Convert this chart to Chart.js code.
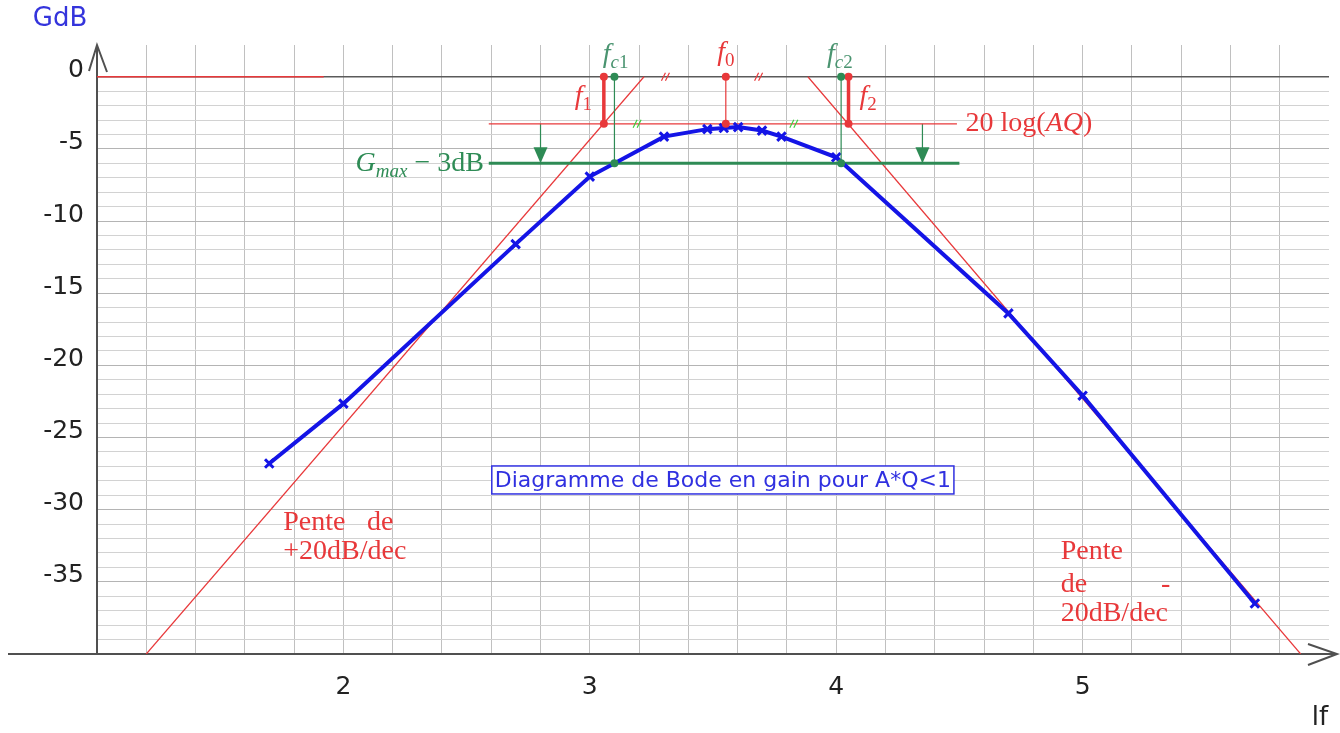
<!DOCTYPE html>
<html lang="fr">
<head>
<meta charset="UTF-8">
<title>Diagramme de Bode en gain</title>
<script src="https://cdn.jsdelivr.net/npm/chart.js@4.3.0/dist/chart.umd.min.js"></script>
<style>
  body { margin: 0; background: #fff; }
  #bode { display: block; }
</style>
</head>
<body>
<canvas id="bode" width="1340" height="733"></canvas>
<script>
// points mesurés : log(f) et gain en dB
const lf  = [1.699, 2, 2.699, 3, 3.301, 3.477, 3.544, 3.602, 3.699, 3.778, 4, 4.699, 5, 5.699];
const gdb = [-26.8, -22.65, -11.6, -6.92, -4.15, -3.63, -3.55, -3.49, -3.73, -4.15, -5.58, -16.4, -22.1, -36.5];

// asymptotes (+20 / -20 dB/dec)
const asymLeftX  = [1.2, 3.22];
const asymLeftY  = [-40, 0];
const asymRightX = [3.885, 5.885];
const asymRightY = [0, -40];

// niveaux
const gAQ  = -3.26;   // 20 log(AQ)
const gCut = -6.0;    // Gmax - 3dB
const zeroSegX = [1, 1.92];
const aqLineX  = [2.59, 4.49];
const cutLineX = [2.59, 4.5];

// fréquences remarquables (log f)
const f1 = 3.057, f0 = 3.552, f2 = 4.05;
const fc1 = 3.1, fc2 = 4.02;
const arrowX = [2.8, 4.35];
const hatchRedX = [3.307, 3.685];
const hatchGreenX = [3.192, 3.828];

// graduations
const yLabels = [0, -5, -10, -15, -20, -25, -30, -35];
const xLabels = [2, 3, 4, 5];

const RED = '#e8383a';
const GREEN = '#2e8b55';
const BLUE = '#1414e6';

const xy = (xs, ys) => xs.map((x, i) => ({ x: x, y: ys[i] }));

const notes = [
    { x: 2.974, y: -1.39, align: 'center', color: RED, parts: [{ t: 'f', it: true }, { t: '1', sub: true }] },
    { x: f0, y: 1.66, align: 'center', color: RED, parts: [{ t: 'f', it: true }, { t: '0', sub: true }] },
    { x: 4.13, y: -1.39, align: 'center', color: RED, parts: [{ t: 'f', it: true }, { t: '2', sub: true }] },
    { x: 3.105, y: 1.52, align: 'center', color: '#4a9470', parts: [{ t: 'f', it: true }, { t: 'c', it: true, sub: true }, { t: '1', sub: true }] },
    { x: 4.015, y: 1.52, align: 'center', color: '#4a9470', parts: [{ t: 'f', it: true }, { t: 'c', it: true, sub: true }, { t: '2', sub: true }] },
    { x: 4.525, y: gAQ, align: 'left', color: RED, parts: [{ t: '20 log(' }, { t: 'AQ', it: true }, { t: ')' }] },
    { x: 2.57, y: gCut, align: 'right', color: GREEN, parts: [{ t: 'G', it: true }, { t: 'max', it: true, sub: true }, { t: ' \u2212 3dB' }] },
    { x: 1.756, y: -30.9, align: 'left', color: RED, parts: [{ t: 'Pente' }] },
    { x: 2.203, y: -30.9, align: 'right', color: RED, parts: [{ t: 'de' }] },
    { x: 1.756, y: -32.9, align: 'left', color: RED, parts: [{ t: '+20dB/dec' }] },
    { x: 4.911, y: -32.9, align: 'left', color: RED, parts: [{ t: 'Pente' }] },
    { x: 4.911, y: -35.2, align: 'left', color: RED, parts: [{ t: 'de' }] },
    { x: 5.337, y: -35.2, align: 'center', color: RED, parts: [{ t: '-' }] },
    { x: 4.911, y: -37.2, align: 'left', color: RED, parts: [{ t: '20dB/dec' }] }
];

function drawRich(ctx, parts, x, y, align, color, size) {
    const fam = '"Liberation Serif", serif';
    const fontOf = p => (p.it ? 'italic ' : '') + Math.round(p.sub ? size * 0.68 : size) + 'px ' + fam;
    let w = 0;
    parts.forEach(p => { ctx.font = fontOf(p); w += ctx.measureText(p.t).width; });
    let cx = align === 'left' ? x : (align === 'right' ? x - w : x - w / 2);
    ctx.fillStyle = color;
    ctx.textAlign = 'left';
    ctx.textBaseline = 'middle';
    parts.forEach(p => {
        ctx.font = fontOf(p);
        ctx.fillText(p.t, cx, y + (p.sub ? size * 0.3 : 0));
        cx += ctx.measureText(p.t).width;
    });
}

function segment(xs, ys, color, width, dots) {
    return {
        data: xy(xs, ys),
        showLine: true,
        borderColor: color,
        borderWidth: width,
        pointRadius: dots ? 4 : 0,
        pointBackgroundColor: color,
        pointBorderColor: color,
        pointBorderWidth: 0
    };
}

const decor = {
    id: 'decor',
    beforeDatasetsDraw(chart) {
        const ctx = chart.ctx;
        const a = chart.chartArea;
        ctx.save();
        ctx.strokeStyle = '#505050';
        ctx.lineWidth = 2;
        ctx.beginPath();
        // axe des x avec flèche
        ctx.moveTo(8, a.bottom); ctx.lineTo(1337, a.bottom);
        ctx.moveTo(1308, a.bottom - 10); ctx.lineTo(1337, a.bottom); ctx.lineTo(1308, a.bottom + 11);
        // axe des y avec flèche
        ctx.moveTo(a.left, a.bottom); ctx.lineTo(a.left, a.top);
        ctx.moveTo(a.left - 8, a.top + 26); ctx.lineTo(a.left, a.top); ctx.lineTo(a.left + 10, a.top + 27);
        ctx.stroke();
        ctx.restore();
    },
    afterDatasetsDraw(chart) {
        const ctx = chart.ctx;
        const xs = chart.scales.x, ys = chart.scales.y;
        ctx.save();

        // pointes de flèches
        chart.data.datasets.forEach((ds, i) => {
            if (!ds.arrowHead) return;
            const pts = chart.getDatasetMeta(i).data;
            const tip = pts[pts.length - 1];
            ctx.fillStyle = ds.borderColor;
            ctx.beginPath();
            ctx.moveTo(tip.x, tip.y);
            ctx.lineTo(tip.x - 7, tip.y - 16);
            ctx.lineTo(tip.x + 7, tip.y - 16);
            ctx.closePath();
            ctx.fill();
        });

        // marques //
        const hatch = (vx, vy, color) => {
            const px = xs.getPixelForValue(vx), py = ys.getPixelForValue(vy);
            ctx.strokeStyle = color;
            ctx.lineWidth = 1.2;
            ctx.beginPath();
            [-2, 2].forEach(d => { ctx.moveTo(px + d - 2, py + 4); ctx.lineTo(px + d + 2, py - 4); });
            ctx.stroke();
        };
        hatchRedX.forEach(v => hatch(v, 0, RED));
        hatchGreenX.forEach(v => hatch(v, gAQ, '#3fcf3f'));

        // textes
        notes.forEach(n => {
            drawRich(ctx, n.parts, xs.getPixelForValue(n.x), ys.getPixelForValue(n.y), n.align, n.color, 28);
        });

        // titre encadré
        const tx = xs.getPixelForValue(3.54), ty = ys.getPixelForValue(-27.94);
        const title = 'Diagramme de Bode en gain pour A*Q<1';
        ctx.font = '22px "DejaVu Sans", sans-serif';
        const tw = ctx.measureText(title).width;
        ctx.fillStyle = '#fff';
        ctx.fillRect(tx - tw / 2 - 3, ty - 14, tw + 6, 28);
        ctx.strokeStyle = '#3030e0';
        ctx.lineWidth = 1.5;
        ctx.strokeRect(tx - tw / 2 - 3, ty - 14, tw + 6, 28);
        ctx.fillStyle = '#3030e0';
        ctx.textAlign = 'center';
        ctx.textBaseline = 'middle';
        ctx.fillText(title, tx, ty + 1);

        // noms des axes
        ctx.font = '26px "DejaVu Sans", sans-serif';
        ctx.fillStyle = '#3434dc';
        ctx.fillText('GdB', 60, 19);
        ctx.fillStyle = '#222';
        ctx.fillText('lf', 1320, 718);
        ctx.restore();
    }
};

const datasets = [
    Object.assign(segment([fc1, fc1], [0, gCut], GREEN, 1.2, true), { order: 0 }),
    Object.assign(segment([fc2, fc2], [0, gCut], GREEN, 1.2, true), { order: 0 }),
    Object.assign(segment([f1, f1], [0, gAQ], RED, 3.5, true), { order: 0 }),
    Object.assign(segment([f0, f0], [0, gAQ], RED, 1.2, true), { order: 0 }),
    Object.assign(segment([f2, f2], [0, gAQ], RED, 3.5, true), { order: 0 }),
    {
        data: xy(lf, gdb),
        showLine: true,
        borderColor: BLUE,
        borderWidth: 4,
        pointStyle: 'crossRot',
        pointRadius: 6,
        pointBorderWidth: 3,
        pointBorderColor: BLUE,
        order: 1
    },
    Object.assign(segment(cutLineX, [gCut, gCut], GREEN, 3, false), { order: 2 }),
    Object.assign(segment(aqLineX, [gAQ, gAQ], RED, 1.2, false), { order: 2 }),
    Object.assign(segment(asymLeftX, asymLeftY, RED, 1.2, false), { order: 2 }),
    Object.assign(segment(asymRightX, asymRightY, RED, 1.2, false), { order: 2 }),
    Object.assign(segment(zeroSegX, [0, 0], RED, 1.5, false), { order: 2 }),
    Object.assign(segment([arrowX[0], arrowX[0]], [gAQ, gCut], GREEN, 1.2, false), { order: 2, arrowHead: true }),
    Object.assign(segment([arrowX[1], arrowX[1]], [gAQ, gCut], GREEN, 1.2, false), { order: 2, arrowHead: true })
];

new Chart(document.getElementById('bode'), {
    type: 'scatter',
    data: { datasets: datasets },
    options: {
        responsive: false,
        animation: false,
        layout: { padding: { top: 45, right: 11, left: 0, bottom: 0 } },
        plugins: { legend: { display: false }, tooltip: { enabled: false } },
        scales: {
            x: {
                type: 'linear',
                min: 1,
                max: 6,
                afterFit: s => { s.height = 79; s.paddingLeft = 0; s.paddingRight = 0; },
                border: { display: false },
                grid: {
                    drawTicks: false,
                    color: c => (c.tick && c.tick.value > 5.99) ? 'rgba(0,0,0,0)' : '#c0c0c0',
                    lineWidth: 1
                },
                ticks: {
                    stepSize: 0.2,
                    autoSkip: false,
                    maxRotation: 0,
                    padding: 18,
                    color: '#222',
                    font: { family: '"DejaVu Sans", sans-serif', size: 25 },
                    callback: v => {
                        const r = Math.round(v);
                        return (Math.abs(v - r) < 1e-6 && xLabels.includes(r)) ? String(r) : '';
                    }
                }
            },
            y: {
                type: 'linear',
                min: -40,
                max: 2.2,
                afterFit: s => { s.width = 97; },
                afterBuildTicks: s => { s.ticks = s.ticks.filter(t => Number.isInteger(t.value) && t.value <= 0); },
                border: { display: false },
                grid: {
                    drawTicks: false,
                    color: c => {
                        const v = c.tick ? c.tick.value : 1;
                        if (v === 0) return '#5a5a5a';
                        return v % 5 === 0 ? '#b4b4b4' : '#d2d2d2';
                    },
                    lineWidth: c => (c.tick && c.tick.value === 0) ? 1.6 : 1
                },
                ticks: {
                    stepSize: 1,
                    autoSkip: false,
                    padding: 13,
                    labelOffset: -6,
                    color: '#222',
                    font: { family: '"DejaVu Sans", sans-serif', size: 25 },
                    callback: v => yLabels.includes(v) ? String(v) : ''
                }
            }
        }
    },
    plugins: [decor]
});
</script>
</body>
</html>
